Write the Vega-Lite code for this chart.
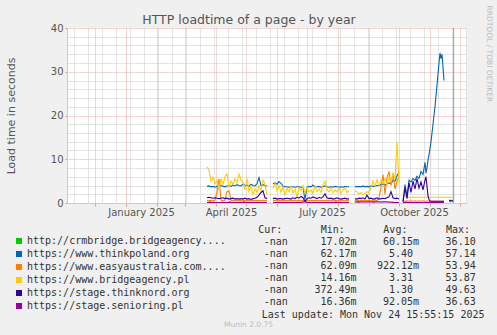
{
"$schema": "https://vega.github.io/schema/vega-lite/v6.json",
"width": 400,
"height": 175,
"autosize": "none",
"padding": {"left": 67, "top": 28, "right": 30, "bottom": 132},
"background": "#f0f0f0",
"config": {"view": {"fill": "#ffffff", "stroke": null}, "font": "DejaVu Sans"},
"title": {"text": "HTTP loadtime of a page - by year", "font": "DejaVu Sans", "fontSize": 12.5, "fontWeight": "normal", "color": "#555555", "anchor": "middle", "frame": "group", "dx": -18, "dy": 25, "offset": 4},
"datasets": {
"series": [
{"k": "g", "name": "http://crmbridge.bridgeagency...."},
{"k": "b", "name": "https://www.thinkpoland.org"},
{"k": "o", "name": "https://www.easyaustralia.com...."},
{"k": "y", "name": "https://www.bridgeagency.pl"},
{"k": "p", "name": "https://stage.thinknord.org"},
{"k": "m", "name": "https://stage.senioring.pl"}
],
"stats": [
{"k": "g", "c": "Cur:", "n": "-nan", "s": ""}, {"k": "g", "c": "Min:", "n": "17.02", "s": "m"}, {"k": "g", "c": "Avg:", "n": "60.15", "s": "m"}, {"k": "g", "c": "Max:", "n": "36.10", "s": ""},
{"k": "b", "c": "Cur:", "n": "-nan", "s": ""}, {"k": "b", "c": "Min:", "n": "62.17", "s": "m"}, {"k": "b", "c": "Avg:", "n": "5.40", "s": ""}, {"k": "b", "c": "Max:", "n": "57.14", "s": ""},
{"k": "o", "c": "Cur:", "n": "-nan", "s": ""}, {"k": "o", "c": "Min:", "n": "62.09", "s": "m"}, {"k": "o", "c": "Avg:", "n": "922.12", "s": "m"}, {"k": "o", "c": "Max:", "n": "53.94", "s": ""},
{"k": "y", "c": "Cur:", "n": "-nan", "s": ""}, {"k": "y", "c": "Min:", "n": "14.16", "s": "m"}, {"k": "y", "c": "Avg:", "n": "3.31", "s": ""}, {"k": "y", "c": "Max:", "n": "53.87", "s": ""},
{"k": "p", "c": "Cur:", "n": "-nan", "s": ""}, {"k": "p", "c": "Min:", "n": "372.49", "s": "m"}, {"k": "p", "c": "Avg:", "n": "1.30", "s": ""}, {"k": "p", "c": "Max:", "n": "49.63", "s": ""},
{"k": "m", "c": "Cur:", "n": "-nan", "s": ""}, {"k": "m", "c": "Min:", "n": "16.36", "s": "m"}, {"k": "m", "c": "Avg:", "n": "92.05", "s": "m"}, {"k": "m", "c": "Max:", "n": "36.63", "s": ""}
],
"load": [
{"t":"2025-03-23","b":3.8,"o":0.6,"y":8.3,"p":1.2,"m":0.12},
{"t":"2025-03-25","g":0.25,"b":3.9,"o":0.5,"y":7.5,"p":1.3,"m":0.1},
{"t":"2025-03-27","g":0.25,"b":3.7,"o":0.6,"y":5.0,"p":1.2,"m":0.1},
{"t":"2025-03-29","b":3.8,"o":0.5,"y":5.8,"p":1.1,"m":0.12},
{"t":"2025-03-31","b":3.6,"o":0.6,"y":4.4,"p":1.2,"m":0.1},
{"t":"2025-04-02","b":3.8,"o":2.5,"y":5.2,"p":1.1,"m":0.1},
{"t":"2025-04-04","b":3.9,"o":5.5,"y":3.0,"p":1.0,"m":0.1},
{"t":"2025-04-06","b":4.0,"o":0.6,"y":5.6,"p":1.1,"m":0.12},
{"t":"2025-04-08","b":3.8,"o":0.5,"y":4.2,"p":1.2,"m":0.1},
{"t":"2025-04-10","b":3.7,"o":0.6,"y":6.0,"p":1.0,"m":0.1},
{"t":"2025-04-12","b":3.9,"o":2.6,"y":6.7,"p":1.1,"m":0.1},
{"t":"2025-04-14","g":0.25,"b":4.0,"o":2.8,"y":3.5,"p":0.9,"m":0.12},
{"t":"2025-04-16","g":0.25,"b":3.8,"o":0.6,"y":5.0,"p":1.0,"m":0.1},
{"t":"2025-04-18","b":4.1,"o":0.5,"y":4.3,"p":1.1,"m":0.1},
{"t":"2025-04-20","b":3.9,"o":0.6,"y":5.5,"p":0.9,"m":0.1},
{"t":"2025-04-22","b":4.2,"o":0.5,"y":4.6,"p":1.0,"m":0.12},
{"t":"2025-04-24","b":4.0,"o":0.6,"y":6.6,"p":0.9,"m":0.1},
{"t":"2025-04-26","b":3.9,"o":0.5,"y":5.2,"p":1.0,"m":0.1},
{"t":"2025-04-28","g":0.25,"b":4.3,"o":0.6,"y":4.8,"p":0.9,"m":0.1},
{"t":"2025-04-30","g":0.25,"b":4.0,"o":0.5,"y":3.0,"p":1.1,"m":0.12},
{"t":"2025-05-02","b":4.1,"o":0.6,"y":5.6,"p":0.9,"m":0.1},
{"t":"2025-05-04","b":3.8,"o":0.5,"y":2.6,"p":1.0,"m":0.1},
{"t":"2025-05-06","b":4.3,"o":0.6,"y":3.8,"p":0.8,"m":0.1},
{"t":"2025-05-08","b":4.0,"o":0.5,"y":1.9,"p":1.0,"m":0.12},
{"t":"2025-05-10","b":3.9,"o":0.6,"y":3.3,"p":1.1,"m":0.1},
{"t":"2025-05-12","b":4.4,"o":0.5,"y":2.4,"p":1.3,"m":0.1},
{"t":"2025-05-14","b":5.8,"o":0.6,"y":4.0,"p":1.8,"m":0.1},
{"t":"2025-05-16","b":4.0,"o":0.5,"y":2.8,"p":2.4,"m":0.12},
{"t":"2025-05-18","b":4.2,"o":0.6,"y":5.3,"p":2.8,"m":0.1},
{"t":"2025-05-20","b":4.0,"o":0.5,"y":4.2,"p":1.2,"m":0.1},
{"t":"2025-05-22","b":3.9,"o":0.6,"y":1.9,"p":1.0,"m":0.1},
{"t":"2025-05-24"},
{"t":"2025-05-26"},
{"t":"2025-05-28","b":4.4,"o":0.5,"y":3.3,"p":1.0,"m":0.1},
{"t":"2025-05-30","b":4.6,"o":0.6,"y":4.5,"p":1.1,"m":0.12},
{"t":"2025-06-01","b":4.3,"o":0.5,"y":2.8,"p":0.9,"m":0.1},
{"t":"2025-06-03","b":4.9,"o":0.6,"y":4.0,"p":1.0,"m":0.1},
{"t":"2025-06-05","b":4.5,"o":0.5,"y":2.5,"p":1.0,"m":0.1},
{"t":"2025-06-07","b":3.8,"o":0.6,"y":3.6,"p":0.9,"m":0.12},
{"t":"2025-06-09","b":3.7,"o":0.5,"y":1.9,"p":1.0,"m":0.1},
{"t":"2025-06-11","b":3.7,"o":0.6,"y":3.4,"p":1.1,"m":0.1},
{"t":"2025-06-13","b":3.6,"o":0.5,"y":2.6,"p":1.0,"m":0.1},
{"t":"2025-06-15","b":3.7,"o":0.6,"y":3.9,"p":0.9,"m":0.12},
{"t":"2025-06-17","b":3.7,"o":0.5,"y":2.3,"p":1.2,"m":0.1},
{"t":"2025-06-19","b":3.6,"o":0.6,"y":3.2,"p":1.0,"m":0.1},
{"t":"2025-06-21","b":3.7,"o":0.5,"y":1.4,"p":1.3,"m":0.1},
{"t":"2025-06-23","b":3.7,"o":0.6,"y":3.5,"p":1.1,"m":0.12},
{"t":"2025-06-25","b":3.6,"o":0.5,"y":2.8,"p":1.5,"m":0.1},
{"t":"2025-06-27","b":3.5,"o":0.6,"y":4.0,"p":1.2,"m":0.2},
{"t":"2025-06-29","g":0.25,"b":0.8,"o":0.5,"y":2.2,"p":0.4,"m":0.3},
{"t":"2025-07-01","g":0.25,"b":3.6,"o":0.6,"y":3.6,"p":1.0,"m":0.1},
{"t":"2025-07-03","b":3.8,"o":0.5,"y":2.5,"p":1.2,"m":0.1},
{"t":"2025-07-05","b":3.7,"o":0.6,"y":3.0,"p":1.1,"m":0.12},
{"t":"2025-07-07","b":4.1,"o":0.5,"y":2.2,"p":1.4,"m":0.1},
{"t":"2025-07-09","b":3.6,"o":0.6,"y":3.8,"p":1.2,"m":0.1},
{"t":"2025-07-11","b":3.7,"o":0.5,"y":2.6,"p":1.0,"m":0.1},
{"t":"2025-07-13","b":3.8,"o":0.6,"y":3.3,"p":1.3,"m":0.12},
{"t":"2025-07-15","b":3.6,"o":0.5,"y":2.4,"p":1.1,"m":0.1},
{"t":"2025-07-17","b":3.7,"o":0.6,"y":4.1,"p":1.4,"m":0.1},
{"t":"2025-07-19","b":3.9,"o":0.5,"y":5.0,"p":2.1,"m":0.1},
{"t":"2025-07-21","b":3.7,"o":0.6,"y":3.0,"p":1.2,"m":0.12},
{"t":"2025-07-23","b":3.6,"o":0.5,"y":2.6,"p":1.0,"m":0.1},
{"t":"2025-07-25","b":3.7,"o":0.6,"y":3.4,"p":1.1,"m":0.1},
{"t":"2025-07-27","b":3.6,"o":0.5,"y":2.3,"p":0.9,"m":0.1},
{"t":"2025-07-29","g":0.25,"b":3.8,"o":0.6,"y":3.0,"p":1.0,"m":0.12},
{"t":"2025-07-31","g":0.25,"b":3.7,"o":0.5,"y":2.5,"p":1.2,"m":0.1},
{"t":"2025-08-02","b":3.6,"o":0.6,"y":3.4,"p":1.0,"m":0.1},
{"t":"2025-08-04","b":3.7,"o":0.5,"y":2.2,"p":0.9,"m":0.1},
{"t":"2025-08-06","b":3.6,"o":0.6,"y":2.9,"p":1.0,"m":0.12},
{"t":"2025-08-08","b":3.8,"o":0.5,"y":3.5,"p":1.1,"m":0.1},
{"t":"2025-08-10","b":3.7,"o":0.6,"y":2.4,"p":0.9,"m":0.1},
{"t":"2025-08-12","b":3.7,"o":0.5,"y":2.8,"p":1.0,"m":0.1},
{"t":"2025-08-14"},
{"t":"2025-08-16"},
{"t":"2025-08-18","b":3.8,"o":0.5,"y":2.8,"p":1.0,"m":0.2},
{"t":"2025-08-20","g":0.25,"b":3.7,"o":0.6,"y":2.6,"p":0.9,"m":0.3},
{"t":"2025-08-22","g":0.25,"b":3.8,"o":0.5,"y":2.0,"p":1.1,"m":0.2},
{"t":"2025-08-24","b":3.7,"o":0.6,"y":2.4,"p":1.0,"m":0.25},
{"t":"2025-08-26","b":3.9,"o":0.5,"y":1.9,"p":1.2,"m":0.3},
{"t":"2025-08-28","b":3.7,"o":0.6,"y":2.2,"p":0.9,"m":0.2},
{"t":"2025-08-30","b":3.8,"o":0.5,"y":2.6,"p":1.8,"m":0.3},
{"t":"2025-09-01","b":3.7,"o":0.6,"y":2.3,"p":1.0,"m":0.25},
{"t":"2025-09-03","b":3.9,"o":0.5,"y":3.6,"p":1.1,"m":0.3},
{"t":"2025-09-05","g":0.25,"b":3.8,"o":0.6,"y":5.0,"p":0.9,"m":0.2},
{"t":"2025-09-07","g":0.25,"b":3.8,"o":0.7,"y":3.8,"p":1.0,"m":0.3},
{"t":"2025-09-09","b":4.0,"o":0.5,"y":5.3,"p":1.2,"m":0.25},
{"t":"2025-09-11","b":4.0,"o":1.2,"y":4.0,"p":0.9,"m":0.3},
{"t":"2025-09-13","b":4.2,"o":3.5,"y":5.2,"p":1.0,"m":0.2},
{"t":"2025-09-15","b":4.3,"o":6.5,"y":4.4,"p":1.1,"m":0.3},
{"t":"2025-09-17","b":4.1,"o":2.0,"y":5.6,"p":1.0,"m":0.25},
{"t":"2025-09-19","b":4.4,"o":5.8,"y":4.2,"p":1.2,"m":0.3},
{"t":"2025-09-21","b":4.6,"o":7.2,"y":6.0,"p":1.4,"m":0.2},
{"t":"2025-09-23","b":4.4,"o":4.0,"y":4.8,"p":2.6,"m":0.2},
{"t":"2025-09-25","b":5.2,"o":6.8,"y":6.8,"p":1.2,"m":0.15},
{"t":"2025-09-27","b":5.0,"o":3.2,"y":5.5,"p":1.0,"m":0.1},
{"t":"2025-09-29","b":6.2,"o":5.0,"y":14.0,"p":1.1,"m":0.1},
{"t":"2025-10-01","b":7.1,"o":6.0,"y":4.5,"p":0.9,"m":0.1},
{"t":"2025-10-03"},
{"t":"2025-10-05","b":0.4,"o":0.5,"y":2.5,"p":0.2,"m":0.1},
{"t":"2025-10-07","g":0.25,"b":4.2,"o":0.4,"y":1.6,"p":3.5,"m":0.1},
{"t":"2025-10-09","g":0.25,"b":1.5,"o":0.5,"y":1.3,"p":1.0,"m":0.12},
{"t":"2025-10-11","b":5.2,"o":0.4,"y":1.3,"p":4.6,"m":0.1},
{"t":"2025-10-13","b":4.8,"o":0.5,"y":1.3,"p":2.4,"m":0.1},
{"t":"2025-10-15","b":5.6,"o":0.4,"y":1.3,"p":5.0,"m":0.1},
{"t":"2025-10-17","b":5.2,"o":0.5,"y":1.3,"p":3.2,"m":0.12},
{"t":"2025-10-19","b":6.1,"o":0.4,"y":1.3,"p":5.6,"m":0.1},
{"t":"2025-10-21","b":5.6,"o":0.5,"y":1.3,"p":3.4,"m":0.1},
{"t":"2025-10-23","b":7.2,"o":0.4,"y":1.3,"p":4.8,"m":0.1},
{"t":"2025-10-25","b":6.5,"o":0.5,"y":1.3,"p":3.0,"m":0.12},
{"t":"2025-10-27","b":9.3,"o":0.4,"y":1.3,"p":5.2,"m":0.1},
{"t":"2025-10-28","b":6.8,"o":0.4,"y":1.3,"p":6.0,"m":0.1},
{"t":"2025-10-29","b":8.0,"o":0.5,"y":1.3,"p":3.8,"m":0.1},
{"t":"2025-10-30","b":9.8,"o":0.4,"y":1.3,"p":1.6,"m":0.1},
{"t":"2025-10-31","g":0.25,"b":11.0,"o":0.4,"y":1.3,"p":0.8,"m":0.1},
{"t":"2025-11-01","g":0.25,"b":12.5,"o":0.4,"y":1.3,"p":0.5,"m":0.1},
{"t":"2025-11-02","b":14.0,"o":0.4,"y":1.3,"p":0.4,"m":0.1},
{"t":"2025-11-03","b":16.0,"o":0.4,"y":1.3,"p":0.4,"m":0.1},
{"t":"2025-11-04","b":18.0,"o":0.4,"y":1.3,"p":0.4,"m":0.1},
{"t":"2025-11-05","b":20.0,"o":0.4,"y":1.3,"p":0.4,"m":0.1},
{"t":"2025-11-06","b":22.0,"o":0.4,"y":1.3,"p":0.4,"m":0.1},
{"t":"2025-11-07","b":24.5,"o":0.4,"y":1.3,"p":0.4,"m":0.1},
{"t":"2025-11-08","b":27.0,"o":0.4,"y":1.3,"p":0.4,"m":0.1},
{"t":"2025-11-09","b":29.5,"o":0.4,"y":1.3,"p":0.4,"m":0.1},
{"t":"2025-11-10","b":32.0,"o":0.4,"y":1.3,"p":0.4,"m":0.1},
{"t":"2025-11-11","b":34.3,"o":0.4,"y":1.3,"p":0.4,"m":0.1},
{"t":"2025-11-12","b":33.0,"o":0.4,"y":1.3,"p":0.4,"m":0.1},
{"t":"2025-11-13","b":34.0,"o":0.4,"y":1.3,"p":0.4,"m":0.1},
{"t":"2025-11-14","b":31.0,"o":0.4,"y":1.3,"p":0.4,"m":0.1},
{"t":"2025-11-15","b":28.0,"o":0.4,"y":1.3,"p":0.4,"m":0.1},
{"t":"2025-11-16","y":1.3},
{"t":"2025-11-18","y":1.3},
{"t":"2025-11-20","g":0.3,"b":0.6,"y":1.3,"p":0.5},
{"t":"2025-11-22","g":0.3,"b":0.6,"y":1.3,"p":0.5},
{"t":"2025-11-24","b":0.5,"y":1.3,"p":0.4}
]
},
"layer": [
{
"data": {"name": "load"},
"transform": [
{"fold": ["g", "b", "o", "y", "p", "m"], "as": ["k", "v"]},
{"lookup": "k", "from": {"data": {"name": "series"}, "key": "k", "fields": ["name"]}}
],
"mark": {"type": "line", "strokeWidth": 1.1, "interpolate": "linear"},
"encoding": {
"x": {"field": "t", "type": "temporal",
"scale": {"type": "utc", "nice": false, "domain": [1730592000000, 1765152000000]},
"axis": {
"orient": "bottom",
"values": [1733011200000, 1735689600000, 1738368000000, 1740787200000, 1743465600000, 1746057600000, 1748736000000, 1751328000000, 1754006400000, 1756684800000, 1759276800000, 1761955200000, 1764547200000,
1731196800000, 1732406400000, 1733616000000, 1734825600000, 1736035200000, 1737244800000, 1738454400000, 1739664000000, 1740873600000, 1742083200000, 1743292800000, 1744502400000, 1745712000000, 1746921600000, 1748131200000, 1749340800000, 1750550400000, 1751760000000, 1752969600000, 1754179200000, 1755388800000, 1756598400000, 1757808000000, 1759017600000, 1760227200000, 1761436800000, 1762646400000, 1763856000000, 1765065600000],
"labels": false,
"ticks": true, "tickSize": 3,
"tickColor": {"condition": {"test": "utcdate(datum.value) === 1", "value": "#e39a9a"}, "value": "transparent"},
"grid": true, "gridDash": [1, 1], "gridWidth": 1,
"gridColor": {"condition": {"test": "utcdate(datum.value) === 1", "value": "#eea8a8"}, "value": "#c8c8c8"},
"domainColor": "#c8c8f0",
"title": "Munin 2.0.75", "titleFont": "DejaVu Sans", "titleFontSize": 7.5, "titleFontWeight": "normal", "titleColor": "#bbbbbb",
"titleX": 181, "titleY": 121, "titleAlign": "center", "titleBaseline": "middle", "titleAngle": 0
}
},
"y": {"field": "v", "type": "quantitative",
"scale": {"domain": [0, 40], "nice": false, "zero": true},
"axis": {
"orient": "left",
"values": [0, 2, 4, 6, 8, 10, 12, 14, 16, 18, 20, 22, 24, 26, 28, 30, 32, 34, 36, 38, 40],
"labelExpr": "datum.value % 10 === 0 ? datum.label : ''",
"labelFont": "DejaVu Sans", "labelFontSize": 10, "labelColor": "#555555", "labelFlush": false, "labelOverlap": false, "labelPadding": 2,
"ticks": true, "tickSize": 2,
"tickColor": {"condition": {"test": "datum.value % 10 === 0", "value": "#e39a9a"}, "value": "transparent"},
"grid": true, "gridDash": [1, 1], "gridWidth": 1,
"gridColor": {"condition": {"test": "datum.value % 10 === 0", "value": "#eea8a8"}, "value": "#c8c8c8"},
"domainColor": "#c8c8f0",
"title": "Load time in seconds", "titleFont": "DejaVu Sans", "titleFontSize": 11, "titleFontWeight": "normal", "titleColor": "#555555",
"titleX": -56, "titleY": 87.5, "titleAngle": -90, "titleAlign": "center", "titleBaseline": "middle"
}
},
"color": {"field": "name", "type": "nominal",
"scale": {"domain": ["http://crmbridge.bridgeagency....", "https://www.thinkpoland.org", "https://www.easyaustralia.com....", "https://www.bridgeagency.pl", "https://stage.thinknord.org", "https://stage.senioring.pl"],
"range": ["#00cc00", "#0066b3", "#ff8000", "#ffcc00", "#330099", "#990099"]},
"legend": {"orient": "none", "legendX": -53, "legendY": 208, "title": null, "direction": "vertical",
"symbolType": "square", "symbolSize": 9, "symbolStrokeWidth": 3, "symbolOpacity": 1,
"labelFont": "DejaVu Sans Mono", "labelFontSize": 10, "labelColor": "#333333", "labelOffset": 3, "labelLimit": 400,
"rowPadding": -4, "padding": 0}
}
}
},
{
"data": {"values": [{"now": 1763999715000}]},
"mark": {"type": "rule", "color": "#999999", "strokeWidth": 1},
"encoding": {
"x": {"field": "now", "type": "temporal",
"scale": {"type": "utc", "nice": false, "domain": [1730592000000, 1765152000000]},
"axis": {"orient": "bottom", "values": [1736985600000, 1744761600000, 1752624000000, 1760572800000],
"labelExpr": "['January','February','March','April','May','June','July','August','September','October','November','December'][utcmonth(datum.value)] + ' ' + utcyear(datum.value)",
"grid": false, "ticks": false, "domain": false, "title": null,
"labelFont": "DejaVu Sans", "labelFontSize": 10, "labelColor": "#555555", "labelPadding": 4, "labelAngle": 0, "labelOverlap": false, "labelFlush": false}
}
}
},
{
"data": {"name": "stats"},
"encoding": {
"x": {"field": "c", "type": "nominal",
"scale": {"type": "band", "domain": ["Cur:", "Min:", "Avg:", "Max:"], "range": [171.9, 422.3], "paddingInner": 0, "paddingOuter": 0},
"axis": {"orient": "top", "offset": -208, "domain": false, "ticks": false, "grid": false,
"labelFont": "DejaVu Sans Mono", "labelFontSize": 10, "labelColor": "#333333", "labelPadding": 2, "labelAngle": 0,
"title": "Last update: Mon Nov 24 15:55:15 2025", "titleFont": "DejaVu Sans Mono", "titleFontSize": 10, "titleFontWeight": "normal", "titleColor": "#333333",
"titleX": 417, "titleY": 78, "titleAlign": "right", "titleBaseline": "middle", "titleAngle": 0}
},
"y": {"field": "k", "type": "nominal",
"scale": {"type": "band", "domain": ["g", "b", "o", "y", "p", "m"], "range": [207.5, 279.5], "paddingInner": 0, "paddingOuter": 0},
"axis": {"orient": "right", "labels": false, "ticks": false, "domain": false, "grid": false,
"title": "RRDTOOL / TOBI OETIKER", "titleFont": "DejaVu Sans", "titleFontSize": 7.5, "titleFontWeight": "normal", "titleColor": "#bbbbbb",
"titleX": 21, "titleY": -23, "titleAngle": 90, "titleAlign": "left", "titleBaseline": "middle"}
}
},
"layer": [
{"mark": {"type": "text", "align": "right", "baseline": "middle", "dx": 17.7, "font": "DejaVu Sans Mono", "fontSize": 10, "color": "#333333"},
"encoding": {"text": {"field": "n"}}},
{"mark": {"type": "text", "align": "left", "baseline": "middle", "dx": 17.7, "font": "DejaVu Sans Mono", "fontSize": 10, "color": "#333333"},
"encoding": {"text": {"field": "s"}}}
]
}
],
"resolve": {"scale": {"x": "independent", "y": "independent"}, "axis": {"x": "independent", "y": "independent"}}
}
